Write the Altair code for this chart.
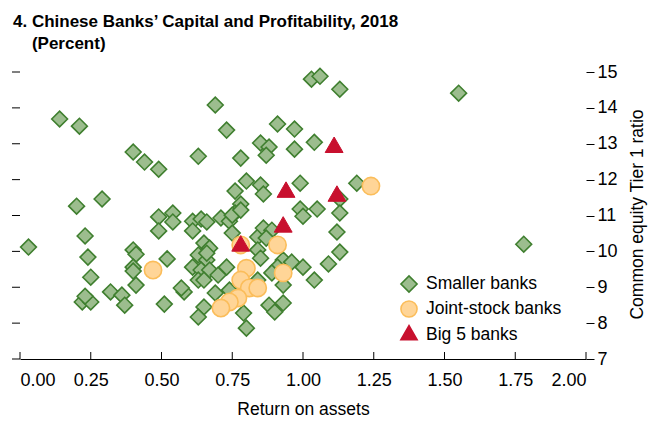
import altair as alt
import pandas as pd

# Smaller banks (return on assets, CET1 ratio)
small_x = [1.03, 1.06, 1.13, 1.55, 0.69, 0.14, 0.21, 0.73, 0.91, 0.97,
           0.40, 0.44, 0.49, 0.63, 0.85, 0.88, 0.87, 0.97, 1.04, 0.78,
           0.20, 0.29, 0.76, 0.80, 0.85, 0.86, 0.99, 0.99, 1.00, 1.05,
           0.78, 0.76, 1.19, 1.13, 1.13, 1.12, 1.13, 1.78, 1.00, 1.09,
           1.04, 0.49, 0.54, 0.54, 0.49, 0.03, 0.23, 0.24, 0.25, 0.22,
           0.25, 0.23, 0.32, 0.36, 0.37, 0.40, 0.41, 0.40, 0.40, 0.41,
           0.52, 0.51, 0.61, 0.64, 0.66, 0.61, 0.71, 0.74, 0.75, 0.78,
           0.75, 0.65, 0.67, 0.63, 0.66, 0.66, 0.61, 0.64, 0.67, 0.70,
           0.73, 0.63, 0.65, 0.69, 0.58, 0.57, 0.65, 0.63, 0.79, 0.80,
           0.84, 0.86, 0.89, 0.87, 0.84, 0.85, 0.93, 0.96, 0.91, 0.89,
           0.93, 0.88, 0.90, 0.93, 0.84, 0.74]
small_y = [14.80, 14.88, 14.52, 14.41, 14.08, 13.69, 13.49, 13.38, 13.55, 13.41,
           12.77, 12.49, 12.29, 12.65, 13.02, 12.91, 12.68, 12.85, 13.04, 12.60,
           11.26, 11.46, 11.68, 11.96, 11.85, 11.60, 11.90, 11.18, 10.98, 11.18,
           11.32, 11.07, 11.90, 11.46, 11.07, 10.54, 9.98, 10.20, 9.56, 9.65,
           9.20, 10.96, 11.07, 10.82, 10.57, 10.12, 10.43, 9.84, 9.28, 8.59,
           8.59, 8.75, 8.87, 8.78, 8.50, 10.04, 9.92, 9.56, 9.45, 9.06,
           9.79, 8.53, 10.84, 10.90, 10.82, 10.57, 10.93, 10.84, 11.01, 11.15,
           10.51, 10.23, 10.09, 9.90, 9.76, 9.95, 9.56, 9.48, 9.48, 9.34,
           9.56, 9.20, 9.20, 8.84, 8.87, 8.98, 8.45, 8.17, 8.28, 7.86,
           10.40, 10.65, 10.59, 10.37, 10.04, 9.81, 9.76, 9.70, 9.56, 9.40,
           9.06, 8.50, 8.31, 8.56, 9.20, 8.92]

# Joint-stock banks
joint_x = [1.24, 0.47, 0.78, 0.91, 0.80, 0.78, 0.81, 0.84, 0.77, 0.74, 0.71, 0.93]
joint_y = [11.82, 9.48, 10.18, 10.18, 9.53, 9.20, 8.98, 8.98, 8.70, 8.59, 8.42, 9.40]

# Big 5 banks
big_x = [0.78, 0.93, 0.94, 1.11, 1.12]
big_y = [10.15, 10.68, 11.65, 12.90, 11.54]

groups = ["Smaller banks", "Joint-stock banks", "Big 5 banks"]
x_ticks = [0.0, 0.25, 0.5, 0.75, 1.0, 1.25, 1.5, 1.75, 2.0]
y_ticks = [7, 8, 9, 10, 11, 12, 13, 14, 15]

def frame(xs, ys, g):
    return pd.DataFrame({"roa": xs, "cet1": ys, "group": [g] * len(xs)})

FONT = "Liberation Sans"
W, H = 566, 287

xscale = alt.Scale(domain=[0, 2], nice=False, zero=False)
yscale = alt.Scale(domain=[7, 15], nice=False, zero=False)

x_axis = alt.Axis(values=x_ticks, format=".2f", ticks=False, tickSize=0, grid=False,
                  domainColor="black", domainWidth=1, labelFontSize=18, labelFont=FONT,
                  labelColor="black", labelPadding=12, title="Return on assets",
                  titleFont=FONT, titleFontSize=17.5, titleFontWeight="normal",
                  titleColor="black", titlePadding=11)
y_axis = alt.Axis(orient="right", values=y_ticks, grid=False, domain=False,
                  tickSize=8, tickColor="black", tickWidth=1, labelFontSize=18,
                  labelFont=FONT, labelColor="black", labelPadding=3,
                  title="Common equity Tier 1 ratio", titleFont=FONT,
                  titleFontSize=17.5, titleFontWeight="normal", titleColor="black",
                  titleAngle=270, titleX=51, titleY=142, titleAlign="center",
                  titleBaseline="middle")
legend = alt.Legend(title=None, orient="none", legendX=380, legendY=203,
                    labelFont=FONT, labelFontSize=17.5, labelColor="black",
                    symbolSize=260, rowPadding=1, labelOffset=8,
                    symbolStrokeWidth=1.6)

enc = dict(
    x=alt.X("roa:Q", scale=xscale, axis=x_axis),
    y=alt.Y("cet1:Q", scale=yscale, axis=y_axis),
    shape=alt.Shape("group:N", scale=alt.Scale(domain=groups, range=["diamond", "circle", "triangle"]),
                    legend=legend),
    fill=alt.Fill("group:N", scale=alt.Scale(domain=groups, range=["#9cbd8e", "#ffd597", "#c8102e"]),
                  legend=legend),
    stroke=alt.Stroke("group:N", scale=alt.Scale(domain=groups, range=["#3f7f2f", "#fbbd5a", "#c8102e"]),
                      legend=legend),
)

small = alt.Chart(frame(small_x, small_y, groups[0])).mark_point(
    filled=True, opacity=1, strokeWidth=1.6, size=250).encode(**enc)
joint = alt.Chart(frame(joint_x, joint_y, groups[1])).mark_point(
    filled=True, opacity=1, strokeWidth=1.6, size=300).encode(**enc)
big = alt.Chart(frame(big_x, big_y, groups[2])).mark_point(
    filled=True, opacity=1, strokeWidth=1, size=320).encode(**enc)

xt = alt.Chart(pd.DataFrame({"t": x_ticks})).mark_rule(color="black", strokeWidth=1).encode(
    x=alt.X("t:Q", scale=xscale, axis=x_axis), y=alt.value(H), y2=alt.value(H - 7))

yl = alt.Chart(pd.DataFrame({"t": y_ticks})).mark_rule(color="black", strokeWidth=1).encode(
    y=alt.Y("t:Q", scale=yscale, axis=y_axis), x=alt.value(-8), x2=alt.value(0))

chart = alt.layer(yl, xt, small, joint, big).properties(
    width=W, height=H,
    title=alt.TitleParams(
        text=["4. Chinese Banks\u2019 Capital and Profitability, 2018",
              "\u200b\u00a0\u00a0\u00a0\u00a0(Percent)"],
        anchor="start", frame="group", dx=-7, offset=10, fontSize=17, fontWeight="bold",
        font=FONT, color="black", lineHeight=22),
    autosize=alt.AutoSizeParams(type="none"),
    padding={"left": 12, "top": 64, "right": 62, "bottom": 59},
).configure_view(stroke=None)

chart.save("out.html", embed_options={"renderer": "svg", "actions": False})
